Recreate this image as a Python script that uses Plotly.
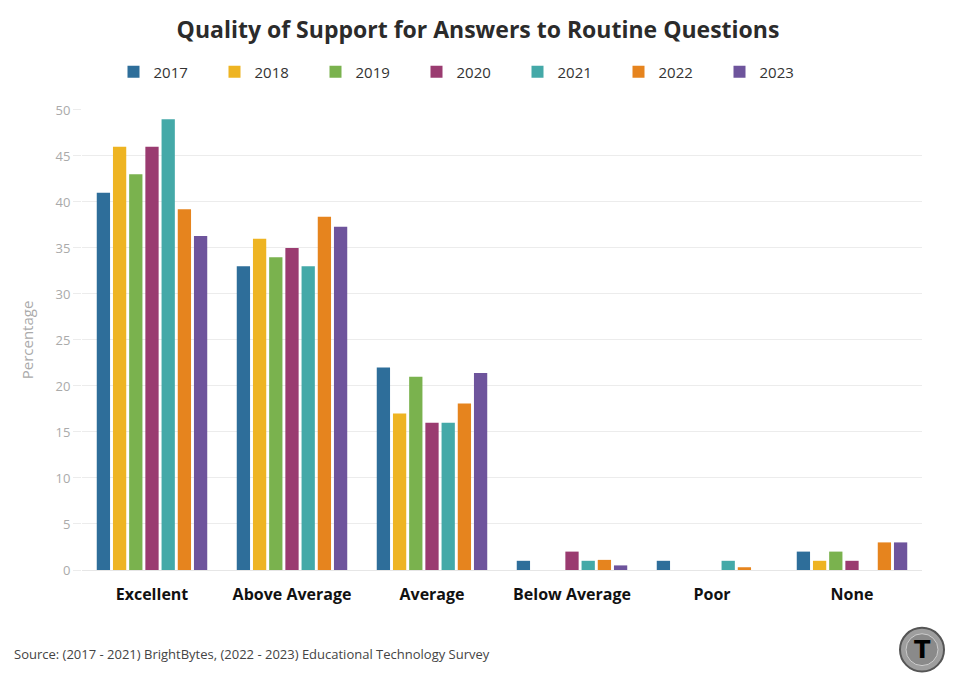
import plotly.graph_objects as go

categories = ["Excellent", "Above Average", "Average", "Below Average", "Poor", "None"]
years = ["2017", "2018", "2019", "2020", "2021", "2022", "2023"]
v2017 = [41, 33, 22, 1, 1, 2]
v2018 = [46, 36, 17, 0, 0, 1]
v2019 = [43, 34, 21, 0, 0, 2]
v2020 = [46, 35, 16, 2, 0, 1]
v2021 = [49, 33, 16, 1, 1, 0]
v2022 = [39.2, 38.4, 18.1, 1.1, 0.3, 3.0]
v2023 = [36.3, 37.3, 21.4, 0.5, 0, 3.0]
series = [v2017, v2018, v2019, v2020, v2021, v2022, v2023]
colors = ["#2E6E9A", "#EEB422", "#7AB24E", "#9A3B70", "#44A9A8", "#E6841E", "#6E549C"]
y_ticks = [0, 5, 10, 15, 20, 25, 30, 35, 40, 45, 50]

FONT = "Open Sans"

# page has an 8px body margin: figure is offset by (8, 8)
W, H = 940, 674
L, T, R, B = 74, 100, 26, 112
PW, PH = W - L - R, H - T - B


def px(sx):
    return (sx - 8 - L) / PW


def py(sy):
    return (8 + T + PH - sy) / PH


fig = go.Figure()
for yr, vals, c in zip(years, series, colors):
    fig.add_trace(go.Bar(name=yr, x=categories, y=vals, marker=dict(color=c, line=dict(width=0))))

fig.update_layout(
    width=W, height=H,
    barmode="group", bargap=0.19, bargroupgap=0.18,
    plot_bgcolor="white", paper_bgcolor="white",
    margin=dict(l=L, r=R, t=T, b=B),
    font=dict(family=FONT, color="#333333"),
    title=dict(text="<b>Quality of Support for Answers to Routine Questions</b>",
               x=0.5, xanchor="center", y=1 - 22 / H, yanchor="middle",
               font=dict(family=FONT, size=23, color="#2b2b2b")),
    legend=dict(orientation="h", x=px(467), xanchor="center", y=1 - 64 / H, yref="container",
                yanchor="middle", font=dict(family=FONT, size=15, color="#333333"),
                entrywidth=56, entrywidthmode="pixels", traceorder="normal"),
    showlegend=True,
)

fig.update_xaxes(
    showgrid=False, showline=True, linecolor="#e6e6e6", linewidth=1,
    tickfont=dict(family=FONT, size=16, color="#111111"),
    ticks="", ticklabelstandoff=10,
    tickvals=categories, ticktext=["<b>%s</b>" % c for c in categories],
)
fig.update_yaxes(
    range=[0, 50], tickvals=y_ticks, showgrid=True, gridcolor="#ececec", gridwidth=1,
    zeroline=False, showline=False,
    tickfont=dict(family=FONT, size=13, color="#aaaaaa"),
    title=dict(text="Percentage", font=dict(family=FONT, size=15, color="#aaaaaa"), standoff=18),
    ticks="outside", ticklen=8, tickcolor="#ececec",
)

fig.add_annotation(text="Source: (2017 - 2021) BrightBytes, (2022 - 2023) Educational Technology Survey",
                   xref="paper", yref="paper", x=px(12), y=py(654), xanchor="left", yanchor="middle",
                   showarrow=False, font=dict(family=FONT, size=13, color="#444444"))

# logo
fig.add_shape(type="circle", xref="paper", yref="paper",
              x0=px(900), x1=px(944), y0=py(672), y1=py(628),
              fillcolor="#9e9e9e", line=dict(color="#555555", width=2))
fig.add_shape(type="circle", xref="paper", yref="paper",
              x0=px(906), x1=px(938), y0=py(666), y1=py(634),
              fillcolor="#8a8a8a", line=dict(color="#cccccc", width=1))
fig.add_annotation(text="<b>T</b>", xref="paper", yref="paper", x=px(922), y=py(650),
                   showarrow=False, xanchor="center", yanchor="middle",
                   font=dict(family="DejaVu Sans", size=24, color="#000000"))

fig.write_html("out.html")
